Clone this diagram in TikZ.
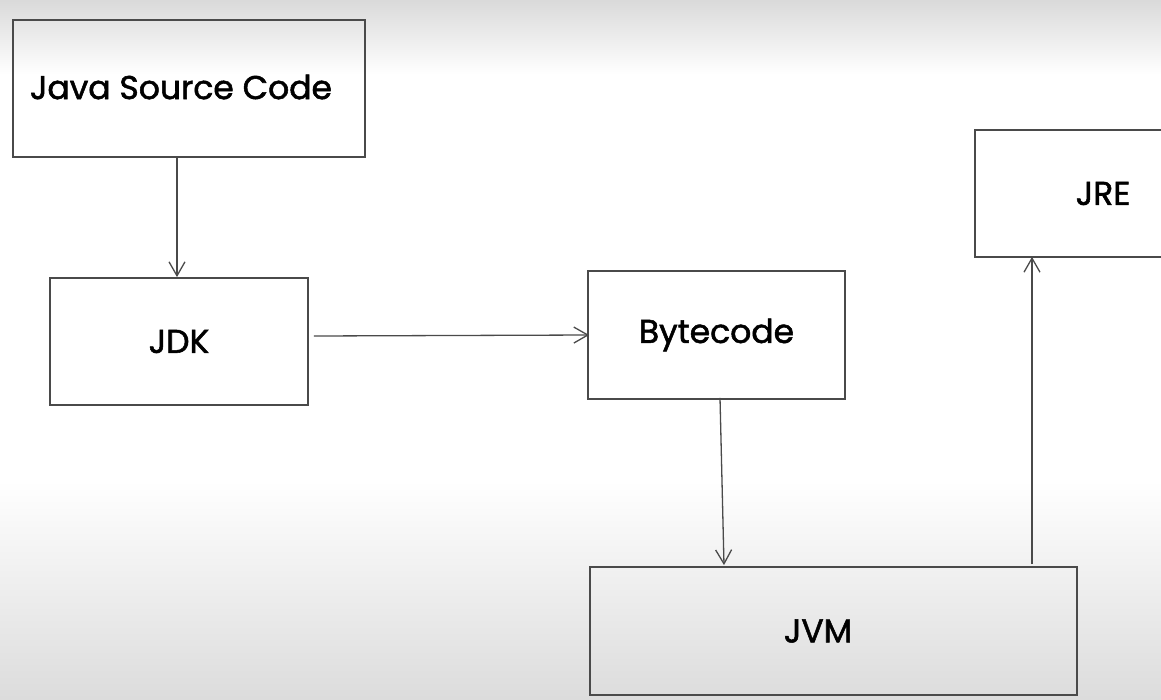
\documentclass[tikz,border=0pt]{standalone}
\usepackage{fontspec}
\setmainfont{Poppins}
\newfontfamily\handfont{Poppins}[FakeBold=1.6]
\usetikzlibrary{arrows.meta}
\definecolor{edge}{HTML}{4A4A4A}
\definecolor{bgtop}{HTML}{DADADA}
\definecolor{bgbot}{HTML}{DCDCDC}
\tikzset{
  lbl/.style={font=\handfont\fontsize{33}{38}\selectfont, text=black},
  box/.style={draw=edge, line width=1.8pt, minimum height=128pt, inner sep=0pt, lbl},
  arr/.style={draw=edge, line width=1.3pt, -{Straight Barb[length=14pt,width=16pt,line width=1.3pt]}},
}
\begin{document}
\begin{tikzpicture}[x=1pt,y=-1pt]
\useasboundingbox (0,0) rectangle (1161,699);
\clip (0,0) rectangle (1161,699);
\fill[white] (0,0) rectangle (1161,699);
\shade[top color=bgtop, bottom color=white] (0,0) rectangle (1161,75);
\shade[top color=white, bottom color=bgbot] (0,480) rectangle (1161,699);
\node[box, minimum width=352pt, minimum height=137pt] (jsc) at (189,88.5) {};
\node[lbl] (jsct) at (181,87) {Java Source Code};
\node[box, minimum width=258pt, minimum height=127pt] (jdk) at (179,341.5) {JDK};
\node[box, minimum width=257pt] (byte) at (716.5,335) {Bytecode};
\node[box, minimum width=256pt, minimum height=127pt] (jre) at (1103,193.5) {JRE};
\node[box, minimum width=487pt] (jvm) at (833.5,631) {};
\node[lbl] (jvmt) at (818,631) {JVM};
\draw[arr] ([xshift=-12pt]jsc.south) -- ([xshift=-2pt]jdk.north);
\draw[arr] ([xshift=5pt,yshift=5.5pt]jdk.east) -- ([xshift=2pt]byte.west);
\draw[arr] ([xshift=3.5pt,yshift=2pt]byte.south) -- ([xshift=-109.5pt,yshift=1pt]jvm.north);
\draw[arr] ([xshift=198.5pt,yshift=2pt]jvm.north) -- ([xshift=-71pt,yshift=1pt]jre.south);
\end{tikzpicture}
\end{document}
